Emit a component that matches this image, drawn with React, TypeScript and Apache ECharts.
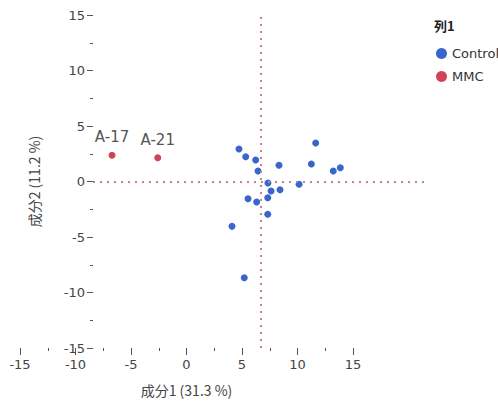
import React, { useEffect, useRef } from "react";
import * as echarts from "echarts";

const controlX = [-2.01, -1.4, -0.5, -0.29, 1.61, 4.53, 4.92, 6.51, 7.15, 0.61, 3.42, 0.89, 1.7, -1.19, -0.41, 0.59, 0.59, -2.64, -1.53];
const controlY = [2.93, 2.23, 1.94, 0.95, 1.46, 1.58, 3.47, 0.95, 1.24, -0.14, -0.25, -0.86, -0.74, -1.55, -1.85, -1.46, -2.95, -4.04, -8.67];
const mmcLabels = ["A-17", "A-21"];
const mmcX = [-13.48, -9.35];
const mmcY = [2.36, 2.14];
const axisTicks = [-15, -10, -5, 0, 5, 10, 15];
const seriesNames = ["Control", "MMC"];
const legendTitle = "列1";
const xName = "成分1 (31.3 %)";
const yName = "成分2 (11.2 %)";

const FONT = "DejaVu Sans";
const CJK = "Noto Sans CJK JP";

export default function App() {
  const ref = useRef<HTMLDivElement>(null);
  useEffect(() => {
    if (!ref.current) return;
    const chart = echarts.init(ref.current, undefined, { renderer: "svg" });
    const tickColor = "#555";
    chart.setOption({
      animation: false,
      textStyle: { fontFamily: FONT },
      title: {
        text: legendTitle,
        left: 429,
        top: 14,
        textStyle: { fontSize: 13, fontWeight: "bold", color: "#222", fontFamily: CJK },
      },
      legend: {
        orient: "vertical",
        left: 431,
        top: 42,
        icon: "circle",
        itemWidth: 11,
        itemHeight: 11,
        itemGap: 10,
        textStyle: { fontSize: 13, color: "#333", fontFamily: FONT },
        data: seriesNames,
      },
      grid: [
        { left: 93, right: 73, top: 15, bottom: 54 },
        { left: 20, right: 145, top: 15, bottom: 54 },
      ],
      xAxis: [
        { gridIndex: 0, type: "value", min: -15.2, max: 14.8, show: false, axisLine: { onZero: false } },
        {
          gridIndex: 1,
          type: "value",
          min: axisTicks[0],
          max: axisTicks[axisTicks.length - 1],
          interval: 5,
          axisLine: { show: false, onZero: false },
          axisTick: { show: true, length: 7, lineStyle: { color: tickColor, width: 1 } },
          minorTick: { show: true, splitNumber: 2, length: 3, lineStyle: { color: tickColor, width: 1 } },
          splitLine: { show: false },
          axisLabel: { fontSize: 13, color: "#444", margin: 10, fontFamily: FONT },
          name: xName,
          nameLocation: "middle",
          nameGap: 35,
          nameTextStyle: { fontSize: 14, color: "#444", fontFamily: CJK },
        },
      ],
      yAxis: [
        {
          gridIndex: 0,
          type: "value",
          min: axisTicks[0],
          max: axisTicks[axisTicks.length - 1],
          interval: 5,
          axisLine: { show: false, onZero: false },
          axisTick: { show: true, length: 6, lineStyle: { color: tickColor, width: 1 } },
          minorTick: { show: true, splitNumber: 2, length: 3, lineStyle: { color: tickColor, width: 1 } },
          splitLine: { show: false },
          axisLabel: { fontSize: 13, color: "#444", margin: 8, fontFamily: FONT },
          name: yName,
          nameLocation: "middle",
          nameGap: 52,
          nameTextStyle: { fontSize: 14, color: "#444", fontFamily: CJK },
        },
        { gridIndex: 1, type: "value", min: 0, max: 1, show: false, axisLine: { onZero: false } },
      ],
      series: [
        {
          name: seriesNames[0],
          type: "scatter",
          xAxisIndex: 0,
          yAxisIndex: 0,
          symbolSize: 7,
          itemStyle: { color: "#3a66cc", opacity: 1 },
          data: controlX.map((x, i) => [x, controlY[i]]),
          markLine: {
            silent: true,
            symbol: "none",
            label: { show: false },
            lineStyle: { color: "#c08590", type: [2, 5], width: 2 },
            data: [{ xAxis: 0 }, { yAxis: 0 }],
          },
          z: 3,
        },
        {
          name: seriesNames[1],
          type: "scatter",
          xAxisIndex: 0,
          yAxisIndex: 0,
          symbolSize: 7,
          itemStyle: { color: "#cf4457", opacity: 1 },
          label: {
            show: true,
            position: "top",
            distance: 7,
            fontSize: 15,
            color: "#555",
            fontFamily: FONT,
            formatter: (p: any) => mmcLabels[p.dataIndex],
          },
          data: mmcX.map((x, i) => [x, mmcY[i]]),
          z: 3,
        },
      ],
    });
    return () => chart.dispose();
  }, []);
  return <div ref={ref} style={{ width: 498, height: 402, position: "absolute", left: 0, top: 0 }} />;
}
